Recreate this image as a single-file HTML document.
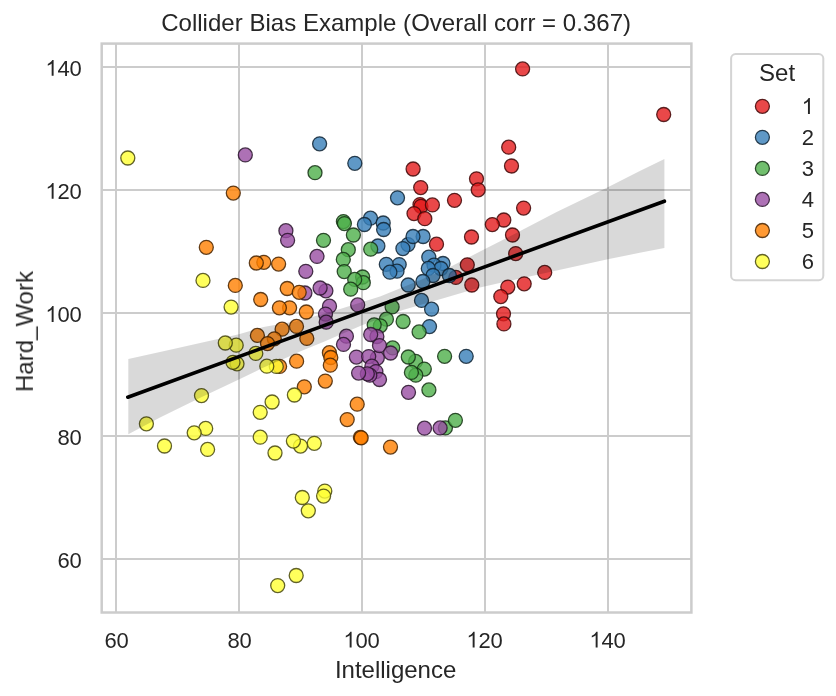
<!DOCTYPE html>
<html><head><meta charset="utf-8"><title>Collider Bias Example</title>
<style>
html,body{margin:0;padding:0;background:#fff;}
body{width:836px;height:696px;overflow:hidden;}
svg{display:block;}
text{font-family:"Liberation Sans",sans-serif;fill:#262626;}
.t22{font-size:22px;letter-spacing:-0.235px;}
.t24{font-size:24px;}
.pt{stroke-opacity:.85;fill-opacity:.8;stroke-width:1.3;}
</style></head><body>
<svg width="836" height="696" viewBox="0 0 836 696">
<rect x="0" y="0" width="836" height="696" fill="#ffffff"/>

<g stroke="#cccccc" stroke-width="2" fill="none">
<line x1="116" y1="43.6" x2="116" y2="612.5"/>
<line x1="239" y1="43.6" x2="239" y2="612.5"/>
<line x1="362" y1="43.6" x2="362" y2="612.5"/>
<line x1="485" y1="43.6" x2="485" y2="612.5"/>
<line x1="608" y1="43.6" x2="608" y2="612.5"/>
<line x1="101.7" y1="66.9" x2="691.4" y2="66.9"/>
<line x1="101.7" y1="189.95" x2="691.4" y2="189.95"/>
<line x1="101.7" y1="313.0" x2="691.4" y2="313.0"/>
<line x1="101.7" y1="436.05" x2="691.4" y2="436.05"/>
<line x1="101.7" y1="559.1" x2="691.4" y2="559.1"/>
</g>
<g class="pt" fill="#e41a1c" stroke="#3f0707">
<circle cx="522.6" cy="68.9" r="7.0"/><circle cx="663.7" cy="114.5" r="7.0"/><circle cx="508.7" cy="147.2" r="7.0"/><circle cx="511.5" cy="166.0" r="7.0"/><circle cx="476.5" cy="178.8" r="7.0"/><circle cx="478.2" cy="189.8" r="7.0"/><circle cx="413.1" cy="169.0" r="7.0"/><circle cx="420.7" cy="187.6" r="7.0"/><circle cx="420.0" cy="204.6" r="7.0"/><circle cx="421.0" cy="206.3" r="7.0"/><circle cx="432.4" cy="204.9" r="7.0"/><circle cx="414.0" cy="213.6" r="7.0"/><circle cx="424.8" cy="218.7" r="7.0"/><circle cx="454.5" cy="200.3" r="7.0"/><circle cx="523.6" cy="208.1" r="7.0"/><circle cx="503.8" cy="220.0" r="7.0"/><circle cx="492.3" cy="224.6" r="7.0"/><circle cx="471.5" cy="237.0" r="7.0"/><circle cx="436.5" cy="244.2" r="7.0"/><circle cx="512.5" cy="235.0" r="7.0"/><circle cx="515.7" cy="253.6" r="7.0"/><circle cx="467.3" cy="264.8" r="7.0"/><circle cx="544.7" cy="272.4" r="7.0"/><circle cx="455.8" cy="277.4" r="7.0"/><circle cx="471.8" cy="285.0" r="7.0"/><circle cx="524.2" cy="283.8" r="7.0"/><circle cx="507.8" cy="287.1" r="7.0"/><circle cx="500.8" cy="296.6" r="7.0"/><circle cx="503.5" cy="313.8" r="7.0"/><circle cx="503.9" cy="323.9" r="7.0"/>
</g>
<g class="pt" fill="#377eb8" stroke="#0f2333">
<circle cx="319.6" cy="143.8" r="7.0"/><circle cx="354.8" cy="163.3" r="7.0"/><circle cx="397.5" cy="197.8" r="7.0"/><circle cx="370.5" cy="218.2" r="7.0"/><circle cx="364.4" cy="224.5" r="7.0"/><circle cx="383.2" cy="223.0" r="7.0"/><circle cx="383.6" cy="229.5" r="7.0"/><circle cx="377.9" cy="246.0" r="7.0"/><circle cx="408.0" cy="244.6" r="7.0"/><circle cx="402.9" cy="248.6" r="7.0"/><circle cx="423.1" cy="236.5" r="7.0"/><circle cx="413.0" cy="236.5" r="7.0"/><circle cx="399.2" cy="264.6" r="7.0"/><circle cx="386.3" cy="264.3" r="7.0"/><circle cx="397.0" cy="271.2" r="7.0"/><circle cx="389.9" cy="272.2" r="7.0"/><circle cx="408.2" cy="285.0" r="7.0"/><circle cx="428.8" cy="257.2" r="7.0"/><circle cx="443.0" cy="263.5" r="7.0"/><circle cx="434.0" cy="265.2" r="7.0"/><circle cx="440.9" cy="268.5" r="7.0"/><circle cx="428.3" cy="268.4" r="7.0"/><circle cx="433.0" cy="275.5" r="7.0"/><circle cx="422.9" cy="281.5" r="7.0"/><circle cx="449.4" cy="275.5" r="7.0"/><circle cx="421.5" cy="300.4" r="7.0"/><circle cx="431.6" cy="309.2" r="7.0"/><circle cx="429.5" cy="326.6" r="7.0"/><circle cx="466.2" cy="356.3" r="7.0"/>
</g>
<g class="pt" fill="#4daf4a" stroke="#153114">
<circle cx="315.0" cy="172.7" r="7.0"/><circle cx="343.4" cy="221.6" r="7.0"/><circle cx="344.4" cy="223.6" r="7.0"/><circle cx="353.4" cy="235.0" r="7.0"/><circle cx="323.5" cy="240.3" r="7.0"/><circle cx="348.3" cy="249.7" r="7.0"/><circle cx="343.3" cy="259.4" r="7.0"/><circle cx="344.2" cy="271.6" r="7.0"/><circle cx="370.7" cy="249.2" r="7.0"/><circle cx="362.6" cy="277.0" r="7.0"/><circle cx="363.3" cy="282.7" r="7.0"/><circle cx="354.7" cy="279.4" r="7.0"/><circle cx="350.7" cy="289.2" r="7.0"/><circle cx="392.1" cy="306.9" r="7.0"/><circle cx="386.4" cy="319.2" r="7.0"/><circle cx="380.3" cy="325.8" r="7.0"/><circle cx="374.2" cy="324.8" r="7.0"/><circle cx="403.1" cy="321.5" r="7.0"/><circle cx="419.1" cy="331.9" r="7.0"/><circle cx="392.7" cy="347.9" r="7.0"/><circle cx="415.6" cy="361.4" r="7.0"/><circle cx="408.3" cy="357.0" r="7.0"/><circle cx="424.3" cy="369.1" r="7.0"/><circle cx="415.8" cy="375.2" r="7.0"/><circle cx="411.4" cy="372.4" r="7.0"/><circle cx="444.6" cy="356.3" r="7.0"/><circle cx="428.9" cy="389.9" r="7.0"/><circle cx="445.4" cy="427.9" r="7.0"/><circle cx="455.4" cy="420.3" r="7.0"/>
</g>
<g class="pt" fill="#984ea3" stroke="#2a152d">
<circle cx="245.3" cy="154.9" r="7.0"/><circle cx="285.9" cy="230.7" r="7.0"/><circle cx="287.6" cy="240.3" r="7.0"/><circle cx="317.0" cy="256.4" r="7.0"/><circle cx="305.8" cy="271.3" r="7.0"/><circle cx="304.9" cy="293.0" r="7.0"/><circle cx="325.9" cy="290.8" r="7.0"/><circle cx="320.1" cy="288.0" r="7.0"/><circle cx="329.5" cy="306.2" r="7.0"/><circle cx="325.5" cy="314.1" r="7.0"/><circle cx="326.2" cy="322.2" r="7.0"/><circle cx="357.7" cy="304.9" r="7.0"/><circle cx="346.4" cy="336.2" r="7.0"/><circle cx="343.5" cy="344.4" r="7.0"/><circle cx="376.9" cy="336.5" r="7.0"/><circle cx="370.7" cy="334.5" r="7.0"/><circle cx="377.3" cy="358.0" r="7.0"/><circle cx="379.5" cy="345.6" r="7.0"/><circle cx="390.6" cy="353.0" r="7.0"/><circle cx="356.4" cy="357.1" r="7.0"/><circle cx="368.7" cy="356.6" r="7.0"/><circle cx="371.9" cy="366.2" r="7.0"/><circle cx="375.9" cy="371.6" r="7.0"/><circle cx="379.5" cy="379.5" r="7.0"/><circle cx="369.8" cy="375.2" r="7.0"/><circle cx="367.3" cy="373.8" r="7.0"/><circle cx="358.6" cy="373.1" r="7.0"/><circle cx="408.5" cy="392.3" r="7.0"/><circle cx="424.5" cy="428.2" r="7.0"/><circle cx="440.1" cy="427.9" r="7.0"/>
</g>
<g class="pt" fill="#ff7f00" stroke="#472300">
<circle cx="233.3" cy="193.1" r="7.0"/><circle cx="206.3" cy="247.3" r="7.0"/><circle cx="263.8" cy="262.3" r="7.0"/><circle cx="256.3" cy="263.0" r="7.0"/><circle cx="278.6" cy="264.1" r="7.0"/><circle cx="235.3" cy="285.4" r="7.0"/><circle cx="287.2" cy="288.5" r="7.0"/><circle cx="299.2" cy="292.3" r="7.0"/><circle cx="260.7" cy="299.5" r="7.0"/><circle cx="289.6" cy="307.8" r="7.0"/><circle cx="279.4" cy="307.8" r="7.0"/><circle cx="306.3" cy="312.0" r="7.0"/><circle cx="282.1" cy="329.2" r="7.0"/><circle cx="296.5" cy="326.4" r="7.0"/><circle cx="257.4" cy="335.4" r="7.0"/><circle cx="274.3" cy="338.8" r="7.0"/><circle cx="267.5" cy="343.6" r="7.0"/><circle cx="306.8" cy="338.4" r="7.0"/><circle cx="296.6" cy="361.2" r="7.0"/><circle cx="279.6" cy="366.4" r="7.0"/><circle cx="329.4" cy="352.7" r="7.0"/><circle cx="330.8" cy="357.5" r="7.0"/><circle cx="330.3" cy="365.2" r="7.0"/><circle cx="325.3" cy="381.1" r="7.0"/><circle cx="304.3" cy="386.8" r="7.0"/><circle cx="357.2" cy="404.2" r="7.0"/><circle cx="347.2" cy="419.6" r="7.0"/><circle cx="360.4" cy="437.4" r="7.0"/><circle cx="361.2" cy="437.8" r="7.0"/><circle cx="390.5" cy="447.1" r="7.0"/>
</g>
<g class="pt" fill="#ffff33" stroke="#47470e">
<circle cx="127.8" cy="158.0" r="7.0"/><circle cx="203.0" cy="280.4" r="7.0"/><circle cx="231.1" cy="307.1" r="7.0"/><circle cx="236.2" cy="345.2" r="7.0"/><circle cx="225.3" cy="343.0" r="7.0"/><circle cx="237.0" cy="363.8" r="7.0"/><circle cx="233.0" cy="362.3" r="7.0"/><circle cx="255.8" cy="353.4" r="7.0"/><circle cx="276.3" cy="366.4" r="7.0"/><circle cx="266.8" cy="366.2" r="7.0"/><circle cx="146.4" cy="423.8" r="7.0"/><circle cx="201.5" cy="395.6" r="7.0"/><circle cx="164.5" cy="446.0" r="7.0"/><circle cx="205.7" cy="428.4" r="7.0"/><circle cx="194.2" cy="432.8" r="7.0"/><circle cx="207.6" cy="449.4" r="7.0"/><circle cx="260.2" cy="412.3" r="7.0"/><circle cx="272.1" cy="402.0" r="7.0"/><circle cx="260.2" cy="437.2" r="7.0"/><circle cx="275.0" cy="453.0" r="7.0"/><circle cx="294.4" cy="395.0" r="7.0"/><circle cx="300.5" cy="446.1" r="7.0"/><circle cx="293.4" cy="441.1" r="7.0"/><circle cx="314.3" cy="443.3" r="7.0"/><circle cx="302.3" cy="497.5" r="7.0"/><circle cx="324.8" cy="491.1" r="7.0"/><circle cx="323.6" cy="496.1" r="7.0"/><circle cx="308.3" cy="510.8" r="7.0"/><circle cx="296.2" cy="575.5" r="7.0"/><circle cx="277.7" cy="585.6" r="7.0"/>
</g>
<polygon fill="#000000" fill-opacity="0.15" points="128.3,359.1 167.8,350.2 215.7,339.5 238.9,334.2 263.5,327.0 300.0,320.5 340.0,308.9 380.0,296.5 420.0,280.3 450.0,267.0 480.0,251.5 512.5,235.1 556.6,212.1 607.8,187.2 639.8,171.0 664.4,159.1 664.4,247.9 639.8,252.8 607.8,259.3 543.2,273.5 499.8,283.0 480.0,287.4 443.5,298.2 402.9,310.1 362.0,325.2 323.9,341.8 300.0,351.6 287.5,357.2 263.5,367.6 238.9,379.5 201.3,397.2 160.0,417.5 128.3,434.2"/>
<line x1="127.8" y1="397.2" x2="664.4" y2="201.2" stroke="#000" stroke-width="3.6" stroke-linecap="round"/>
<rect x="101.7" y="43.6" width="589.6999999999999" height="568.9" fill="none" stroke="#cccccc" stroke-width="2.5"/>
<g opacity="0.999">
<text class="t24" x="161.2" y="31.2" style="letter-spacing:0.023px">Collider Bias Example (Overall corr = 0.367)</text>
<text class="t24" x="395.6" y="677.6" text-anchor="middle">Intelligence</text>
<text class="t24" transform="translate(32.9,331.5) rotate(-90)" text-anchor="middle">Hard_Work</text>
<text class="t22" x="104.40" y="647.60">60</text>
<text class="t22" x="227.40" y="647.60">80</text>
<path d="M763 0H583V1147Q518 1085 412.5 1023Q307 961 223 930V1104Q374 1175 487 1276Q600 1377 647 1472H763Z" fill="#262626" transform="translate(343.40,647.60) scale(0.010742,-0.010742)"/><text class="t22" x="355.40" y="647.60">00</text>
<path d="M763 0H583V1147Q518 1085 412.5 1023Q307 961 223 930V1104Q374 1175 487 1276Q600 1377 647 1472H763Z" fill="#262626" transform="translate(466.40,647.60) scale(0.010742,-0.010742)"/><text class="t22" x="478.40" y="647.60">20</text>
<path d="M763 0H583V1147Q518 1085 412.5 1023Q307 961 223 930V1104Q374 1175 487 1276Q600 1377 647 1472H763Z" fill="#262626" transform="translate(589.40,647.60) scale(0.010742,-0.010742)"/><text class="t22" x="601.40" y="647.60">40</text>
<path d="M763 0H583V1147Q518 1085 412.5 1023Q307 961 223 930V1104Q374 1175 487 1276Q600 1377 647 1472H763Z" fill="#262626" transform="translate(45.40,75.80) scale(0.010742,-0.010742)"/><text class="t22" x="57.40" y="75.80">40</text>
<path d="M763 0H583V1147Q518 1085 412.5 1023Q307 961 223 930V1104Q374 1175 487 1276Q600 1377 647 1472H763Z" fill="#262626" transform="translate(45.40,198.85) scale(0.010742,-0.010742)"/><text class="t22" x="57.40" y="198.85">20</text>
<path d="M763 0H583V1147Q518 1085 412.5 1023Q307 961 223 930V1104Q374 1175 487 1276Q600 1377 647 1472H763Z" fill="#262626" transform="translate(45.40,321.90) scale(0.010742,-0.010742)"/><text class="t22" x="57.40" y="321.90">00</text>
<text class="t22" x="57.40" y="444.95">80</text>
<text class="t22" x="57.40" y="568.00">60</text>
<rect x="731.1" y="54.1" width="92.2" height="226.1" rx="4.5" ry="4.5" fill="#ffffff" fill-opacity="0.8" stroke="#cccccc" stroke-opacity="0.85" stroke-width="2"/>
<text class="t24" x="777.1" y="81.3" text-anchor="middle">Set</text>
<circle class="pt" fill="#e41a1c" stroke="#3f0707" cx="762.4" cy="106.3" r="7.0"/>
<path d="M763 0H583V1147Q518 1085 412.5 1023Q307 961 223 930V1104Q374 1175 487 1276Q600 1377 647 1472H763Z" fill="#262626" transform="translate(801.70,113.90) scale(0.010742,-0.010742)"/>
<circle class="pt" fill="#377eb8" stroke="#0f2333" cx="762.4" cy="137.3" r="7.0"/>
<text class="t22" x="801.70" y="144.94">2</text>
<circle class="pt" fill="#4daf4a" stroke="#153114" cx="762.4" cy="168.4" r="7.0"/>
<text class="t22" x="801.70" y="175.98">3</text>
<circle class="pt" fill="#984ea3" stroke="#2a152d" cx="762.4" cy="199.4" r="7.0"/>
<text class="t22" x="801.70" y="207.02">4</text>
<circle class="pt" fill="#ff7f00" stroke="#472300" cx="762.4" cy="230.5" r="7.0"/>
<text class="t22" x="801.70" y="238.06">5</text>
<circle class="pt" fill="#ffff33" stroke="#47470e" cx="762.4" cy="261.5" r="7.0"/>
<text class="t22" x="801.70" y="269.10">6</text>
</g>
</svg></body></html>
